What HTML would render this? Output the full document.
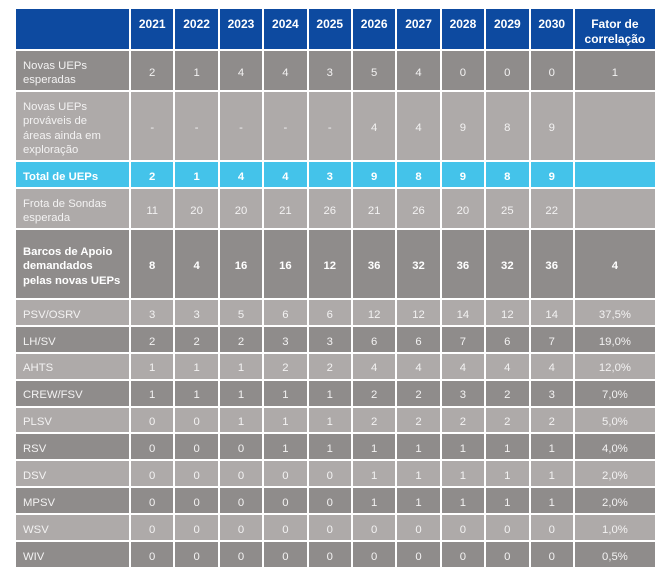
<!DOCTYPE html>
<html>
<head>
<meta charset="utf-8">
<style>
  html,body{margin:0;padding:0;background:#ffffff;}
  body{width:672px;height:574px;position:relative;overflow:hidden;font-family:"Liberation Sans",sans-serif;}
  .g{position:absolute;left:16px;top:9px;display:grid;
     grid-template-columns:113px repeat(10,42.4px) 80px;
     grid-template-rows:40px 39px 68px 25px 39px 68px repeat(10,24.9px);
     gap:2px;background:#ffffff;}
  .g>div{display:flex;align-items:center;justify-content:center;text-align:center;color:#f3f2f2;font-size:11.3px;line-height:14.5px;padding-top:5px;box-sizing:border-box;}
  .g>div.l{justify-content:flex-start;text-align:left;padding-left:7px;}
  .g>div.h{background:#0d4aa0;color:#ffffff;font-weight:bold;font-size:12px;line-height:14.5px;align-items:flex-start;padding-top:8px;}
  .d{background:#8f8c8b;}
  .s{background:#aeaaa9;}
  .g>div.c{background:#44c3ea;color:#ffffff;font-weight:bold;}
  .g>div.b{font-weight:bold;color:#ffffff;}
</style>
</head>
<body>
<div class="g">
  <!-- header -->
  <div class="h"></div>
  <div class="h">2021</div><div class="h">2022</div><div class="h">2023</div><div class="h">2024</div><div class="h">2025</div>
  <div class="h">2026</div><div class="h">2027</div><div class="h">2028</div><div class="h">2029</div><div class="h">2030</div>
  <div class="h">Fator de<br>correlação</div>

  <!-- Novas UEPs esperadas -->
  <div class="d l">Novas UEPs<br>esperadas</div>
  <div class="d">2</div><div class="d">1</div><div class="d">4</div><div class="d">4</div><div class="d">3</div>
  <div class="d">5</div><div class="d">4</div><div class="d">0</div><div class="d">0</div><div class="d">0</div>
  <div class="d">1</div>

  <!-- Novas UEPs prováveis -->
  <div class="s l">Novas UEPs<br>prováveis de<br>áreas ainda em<br>exploração</div>
  <div class="s">-</div><div class="s">-</div><div class="s">-</div><div class="s">-</div><div class="s">-</div>
  <div class="s">4</div><div class="s">4</div><div class="s">9</div><div class="s">8</div><div class="s">9</div>
  <div class="s"></div>

  <!-- Total -->
  <div class="c l">Total de UEPs</div>
  <div class="c">2</div><div class="c">1</div><div class="c">4</div><div class="c">4</div><div class="c">3</div>
  <div class="c">9</div><div class="c">8</div><div class="c">9</div><div class="c">8</div><div class="c">9</div>
  <div class="c"></div>

  <!-- Frota -->
  <div class="s l">Frota de Sondas<br>esperada</div>
  <div class="s">11</div><div class="s">20</div><div class="s">20</div><div class="s">21</div><div class="s">26</div>
  <div class="s">21</div><div class="s">26</div><div class="s">20</div><div class="s">25</div><div class="s">22</div>
  <div class="s"></div>

  <!-- Barcos -->
  <div class="d l b">Barcos de Apoio<br>demandados<br>pelas novas UEPs</div>
  <div class="d b">8</div><div class="d b">4</div><div class="d b">16</div><div class="d b">16</div><div class="d b">12</div>
  <div class="d b">36</div><div class="d b">32</div><div class="d b">36</div><div class="d b">32</div><div class="d b">36</div>
  <div class="d b">4</div>

  <!-- PSV/OSRV -->
  <div class="s l">PSV/OSRV</div>
  <div class="s">3</div><div class="s">3</div><div class="s">5</div><div class="s">6</div><div class="s">6</div>
  <div class="s">12</div><div class="s">12</div><div class="s">14</div><div class="s">12</div><div class="s">14</div>
  <div class="s">37,5%</div>

  <!-- LH/SV -->
  <div class="d l">LH/SV</div>
  <div class="d">2</div><div class="d">2</div><div class="d">2</div><div class="d">3</div><div class="d">3</div>
  <div class="d">6</div><div class="d">6</div><div class="d">7</div><div class="d">6</div><div class="d">7</div>
  <div class="d">19,0%</div>

  <!-- AHTS -->
  <div class="s l">AHTS</div>
  <div class="s">1</div><div class="s">1</div><div class="s">1</div><div class="s">2</div><div class="s">2</div>
  <div class="s">4</div><div class="s">4</div><div class="s">4</div><div class="s">4</div><div class="s">4</div>
  <div class="s">12,0%</div>

  <!-- CREW/FSV -->
  <div class="d l">CREW/FSV</div>
  <div class="d">1</div><div class="d">1</div><div class="d">1</div><div class="d">1</div><div class="d">1</div>
  <div class="d">2</div><div class="d">2</div><div class="d">3</div><div class="d">2</div><div class="d">3</div>
  <div class="d">7,0%</div>

  <!-- PLSV -->
  <div class="s l">PLSV</div>
  <div class="s">0</div><div class="s">0</div><div class="s">1</div><div class="s">1</div><div class="s">1</div>
  <div class="s">2</div><div class="s">2</div><div class="s">2</div><div class="s">2</div><div class="s">2</div>
  <div class="s">5,0%</div>

  <!-- RSV -->
  <div class="d l">RSV</div>
  <div class="d">0</div><div class="d">0</div><div class="d">0</div><div class="d">1</div><div class="d">1</div>
  <div class="d">1</div><div class="d">1</div><div class="d">1</div><div class="d">1</div><div class="d">1</div>
  <div class="d">4,0%</div>

  <!-- DSV -->
  <div class="s l">DSV</div>
  <div class="s">0</div><div class="s">0</div><div class="s">0</div><div class="s">0</div><div class="s">0</div>
  <div class="s">1</div><div class="s">1</div><div class="s">1</div><div class="s">1</div><div class="s">1</div>
  <div class="s">2,0%</div>

  <!-- MPSV -->
  <div class="d l">MPSV</div>
  <div class="d">0</div><div class="d">0</div><div class="d">0</div><div class="d">0</div><div class="d">0</div>
  <div class="d">1</div><div class="d">1</div><div class="d">1</div><div class="d">1</div><div class="d">1</div>
  <div class="d">2,0%</div>

  <!-- WSV -->
  <div class="s l">WSV</div>
  <div class="s">0</div><div class="s">0</div><div class="s">0</div><div class="s">0</div><div class="s">0</div>
  <div class="s">0</div><div class="s">0</div><div class="s">0</div><div class="s">0</div><div class="s">0</div>
  <div class="s">1,0%</div>

  <!-- WIV -->
  <div class="d l">WIV</div>
  <div class="d">0</div><div class="d">0</div><div class="d">0</div><div class="d">0</div><div class="d">0</div>
  <div class="d">0</div><div class="d">0</div><div class="d">0</div><div class="d">0</div><div class="d">0</div>
  <div class="d">0,5%</div>
</div>
</body>
</html>
